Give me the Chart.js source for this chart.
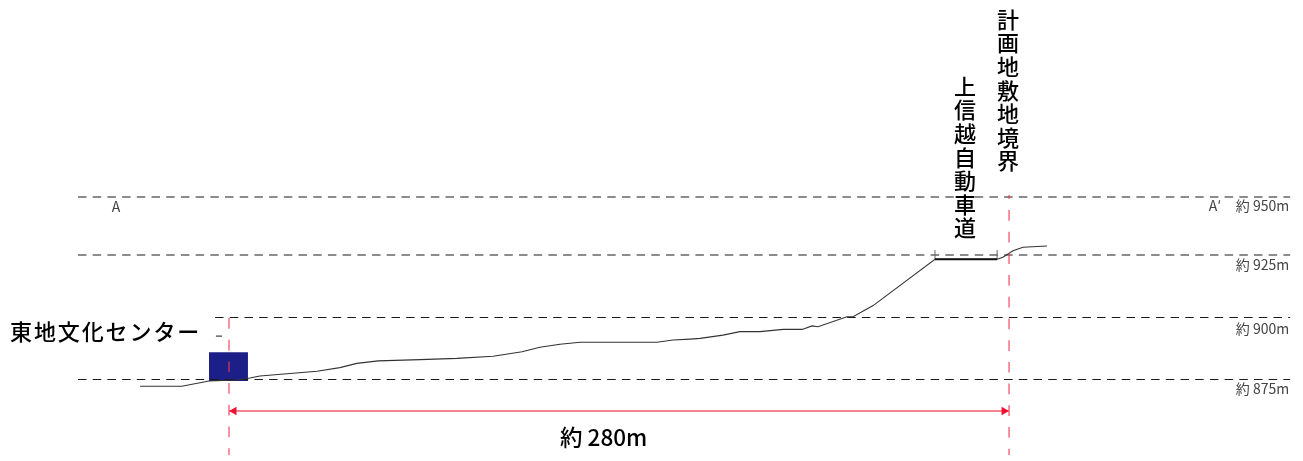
<!DOCTYPE html>
<html lang="ja">
<head>
<meta charset="utf-8">
<title>断面図</title>
<script src="https://cdn.jsdelivr.net/npm/chart.js@4"></script>
<style>
  html, body { margin: 0; background: #fff; }
  canvas { display: block; }
</style>
</head>
<body>
<canvas id="section" width="1303" height="461"></canvas>
<script>
// Ground profile: distance from the centre edge (m), elevation (m)
const profileDistance = [-31.9, -16.9, -7.2, 2.9, 7.5, 11.1, 31.6, 39.8, 45.9, 53.5, 68.6, 81.8, 94.8, 105.2, 111.6, 118.8, 126.0, 153.6, 159.4, 165.5, 169.1, 177.3, 183.4, 190.6, 198.9, 205.7, 209.3, 211.4, 221.8, 224.0, 231.2, 253.4, 275.7, 277.8, 281.4, 285.0, 293.6];
const profileElevation = [872.1, 872.1, 874.2, 874.6, 875.4, 876.2, 878.1, 879.6, 881.3, 882.3, 882.8, 883.3, 884.2, 886.0, 887.8, 889.0, 889.8, 889.8, 890.7, 891.1, 891.4, 892.7, 894.1, 894.1, 895.0, 895.0, 896.4, 896.1, 900.1, 900.1, 904.6, 923.3, 923.3, 924.1, 926.7, 928.1, 928.6];

// Elevation guide lines, top to bottom
const levelElevation = [948.4, 925, 899.8, 874.8];
const levelStart = [-54.2, -54.2, -5.0, -54.2];
const levelEnd = 380.9;
const levelLabels = ['約 950m', '約 925m', '約 900m', '約 875m'];

// Building, road and boundary
const buildingDistance = [-7.2, 6.8];
const buildingTop = 885.8;
const buildingBase = 874.2;
const stubDistance = [-4.7, -2.5];
const stubElevation = 892.3;
const roadDistance = [253.4, 275.7];
const roadElevation = 923.3;
const roadTickTop = 927;
const boundaryDistance = [0, 280];
const boundaryTop = [899.6, 949.2];
const boundaryBottom = 844.4;
const spanElevation = 862.1;

const xMin = -82.2, xMax = 385.5, yMin = 841.94, yMax = 1027.82;

const BLACK = '#1a1a1a';
const RED = 'rgba(238, 60, 85, 0.62)';

// label offset below each guide line, px
const levelLabelOffset = [9, 10, 11.5, 9.5];
// dash phase of each boundary line, px
const boundaryDashOffset = [0, 6.7];

function seg(xs, ys, color, width, dash, dashOffset) {
    return {
        data: xs.map((x, i) => ({ x, y: ys[i] })),
        borderColor: color,
        borderWidth: width,
        borderDash: dash || [],
        borderDashOffset: dashOffset || 0,
        pointRadius: 0,
        tension: 0,
        showLine: true
    };
}

// Chart.js paints the first dataset on top, so the list runs top layer to bottom layer
const datasets = [];

// Span arrow and boundaries
datasets.push({
    data: [{ x: 1.8, y: spanElevation }, { x: 278.2, y: spanElevation }],
    pointStyle: 'triangle',
    pointRadius: 5,
    pointRotation: [-90, 90],
    pointBackgroundColor: '#ee1133',
    pointBorderWidth: 0,
    showLine: false
});
datasets.push(seg(boundaryDistance, [spanElevation, spanElevation], '#f2858f', 2));
boundaryDistance.forEach((x, i) => {
    datasets.push(seg([x, x], [boundaryTop[i], boundaryBottom], RED, 1.8, [10.7, 11], boundaryDashOffset[i]));
});

// Ground and road
datasets.push(seg(roadDistance, [roadElevation, roadElevation], '#111', 2));
roadDistance.forEach(x => datasets.push(seg([x, x], [roadElevation, roadTickTop], '#666', 1)));
datasets.push(seg(profileDistance, profileElevation, '#333', 1.1));

// Guide lines
levelElevation.forEach((y, i) => {
    datasets.push(seg([levelStart[i], levelEnd], [y, y], BLACK, 1.1, [8.5, 6.2]));
});
datasets.push(seg(stubDistance, [stubElevation, stubElevation], BLACK, 1));

// Building
datasets.push({
    data: buildingDistance.map(x => ({ x, y: buildingTop })),
    borderWidth: 0,
    backgroundColor: '#1c1f87',
    fill: { value: buildingBase },
    pointRadius: 0,
    showLine: true
});

// Text drawn at data positions
const textPlugin = {
    id: 'sectionText',
    afterDatasetsDraw(chart) {
        const { ctx, scales: { x, y } } = chart;
        const put = (text, px, py, font, color, align, spacing) => {
            ctx.font = font;
            ctx.fillStyle = color;
            ctx.textAlign = align;
            ctx.textBaseline = 'middle';
            ctx.letterSpacing = spacing || '0px';
            ctx.fillText(text, px, py);
        };
        const family = '"Noto Sans CJK JP", sans-serif';
        ctx.save();
        levelLabels.forEach((label, i) => {
            put(label, x.getPixelForValue(levelEnd) - 1, y.getPixelForValue(levelElevation[i]) + levelLabelOffset[i], `14px ${family}`, '#444', 'right');
        });
        put('A', 116, 207, `14px ${family}`, '#444', 'center');
        put('A\u2032', 1215, 206, `14px ${family}`, '#444', 'center');
        put('東地文化センター', 10, 332, `500 22px ${family}`, '#000', 'left', '1.9px');
        put('約 280m', 560, 437, `500 22.5px ${family}`, '#000', 'left');
        [...'計画地敷地境界'].forEach((c, i) => put(c, 1008, 19.5 + i * 23.6, `500 22px ${family}`, '#000', 'center'));
        [...'上信越自動車道'].forEach((c, i) => put(c, 965, 86.5 + i * 23.6, `500 22px ${family}`, '#000', 'center'));
        ctx.restore();
    }
};

new Chart(document.getElementById('section'), {
    type: 'scatter',
    data: { datasets },
    options: {
        responsive: false,
        animation: false,
        events: [],
        layout: { padding: 0, autoPadding: false },
        plugins: { legend: { display: false }, tooltip: { enabled: false } },
        scales: {
            x: { type: 'linear', min: xMin, max: xMax, display: false },
            y: { type: 'linear', min: yMin, max: yMax, display: false }
        }
    },
    plugins: [textPlugin]
});
</script>
</body>
</html>
